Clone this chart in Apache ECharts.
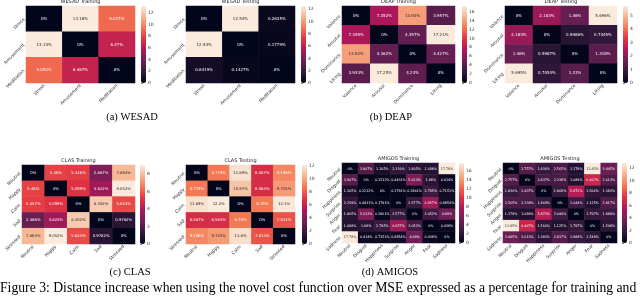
<!DOCTYPE html>
<html>
<head>
<meta charset="utf-8">
<script src="https://cdn.jsdelivr.net/npm/echarts@6/dist/echarts.min.js"></script>
<style>
html,body{margin:0;padding:0;background:#fff;}
#c{width:640px;height:297px;}
</style>
</head>
<body>
<div id="c"></div>
<script>
// ---------- data ----------
const wesadCats = ['Stress', 'Amusement', 'Meditation'];
const deapCats = ['Valence', 'Arousal', 'Dominance', 'Liking'];
const clasCats = ['Neutral', 'Happy', 'Calm', 'Sad', 'Stressed'];
const amigosCats = ['Neutral', 'Disgust', 'Happiness', 'Surprise', 'Anger', 'Fear', 'Sadness'];

const wesadTrain = [
  [0, 13.18, 9.037],
  [13.14, 0, 6.47],
  [9.052, 6.467, 0]
];
const wesadTest = [
  [0, 12.54, 0.2635],
  [12.54, 0, 0.1779],
  [0.6419, 0.1427, 0]
];
const deapTrain = [
  [0, 7.352, 13.92, 3.957],
  [7.349, 0, 4.357, 17.21],
  [13.92, 4.362, 0, 4.427],
  [3.933, 17.25, 4.230, 0]
];
const deapTest = [
  [0, 2.183, 1.46, 5.696],
  [2.183, 0, 0.5986, 0.7445],
  [1.46, 0.5987, 0, 1.318],
  [5.695, 0.7053, 1.31, 0]
];
const clasTrain = [
  [0, 5.46, 5.348, 2.887, 7.864],
  [5.46, 0, 5.099, 3.622, 9.052],
  [5.357, 5.099, 0, 8.302, 5.623],
  [2.386, 3.623, 8.302, 0, 0.9782],
  [7.864, 9.052, 5.623, 0.9782, 0]
];
const clasTest = [
  [0, 8.779, 11.89, 6.587, 9.196],
  [8.779, 0, 10.97, 6.564, 9.725],
  [11.89, 12.2, 0, 8.79, 12.1],
  [6.587, 6.564, 8.79, 0, 7.814],
  [9.196, 9.725, 11.8, 7.814, 0]
];
const amigosTrain = [
  [0, 3.907, 1.165, 2.319, 1.805, 1.688, 17.78],
  [3.907, 0, 0.2212, 0.4431, 5.613, 1.980, 0.4140],
  [1.165, 0.2212, 0, 0.1791, 0.2861, 2.795, 0.7151],
  [2.319, 0.4431, 0.1791, 0, 2.577, 6.957, 0.8854],
  [1.805, 5.613, 0.2861, 2.577, 0, 3.052, 4.99],
  [1.688, 1.980, 2.795, 6.957, 3.052, 0, 0.4380],
  [17.78, 0.4140, 0.7151, 0.8854, 4.99, 0.4380, 0]
];
const amigosTest = [
  [0, 2.757, 1.836, 2.565, 1.178, 12.85, 3.445],
  [2.757, 0, 2.437, 2.338, 1.089, 6.467, 2.613],
  [1.836, 2.437, 0, 1.868, 5.872, 1.566, 1.383],
  [2.565, 2.338, 1.868, 0, 2.044, 1.125, 2.817],
  [1.178, 1.089, 5.872, 2.044, 0, 1.797, 1.988],
  [12.85, 6.467, 1.566, 1.125, 1.797, 0, 1.548],
  [3.445, 2.613, 1.383, 2.817, 1.988, 1.548, 0]
];

const wesadTrainTicks = [0, 2, 4, 6, 8, 10, 12];
const wesadTestTicks = [0, 2, 4, 6, 8, 10, 12];
const deapTrainTicks = [0, 2, 4, 6, 8, 10, 12, 14, 16];
const deapTestTicks = [0, 1, 2, 3, 4, 5];
const clasTrainTicks = [0, 2, 4, 6, 8];
const clasTestTicks = [0, 2, 4, 6, 8, 10, 12];
const amigosTrainTicks = [0, 2, 4, 6, 8, 10, 12, 14, 16];
const amigosTestTicks = [0, 2, 4, 6, 8, 10, 12];

const titles = ['WESAD Training', 'WESAD Testing', 'DEAP Training', 'DEAP Testing',
                'CLAS Training', 'CLAS Testing', 'AMIGOS Training', 'AMIGOS Testing'];
const subCaptions = ['(a) WESAD', '(b) DEAP', '(c) CLAS', '(d) AMIGOS'];
const figCaption = 'Figure 3: Distance increase when using the novel cost function over MSE expressed as a percentage for training and';

// ---------- layout / style ----------
const rocket = ['#03051A', '#35193E', '#701F57', '#AD1759', '#E13342', '#F37651', '#F6B48F', '#FAEBDD'];
const FONT = 'DejaVu Sans';

const panels = [
  {cats: wesadCats, m: wesadTrain, ticks: wesadTrainTicks, g: [26, 6, 109, 77], cb: 141, ty: 2, fs: 4},
  {cats: wesadCats, m: wesadTest, ticks: wesadTestTicks, g: [186, 6, 109, 77], cb: 301, ty: 2, fs: 4},
  {cats: deapCats, m: deapTrain, ticks: deapTrainTicks, g: [342, 6, 113, 77], cb: 462, ty: 2, fs: 4},
  {cats: deapCats, m: deapTest, ticks: deapTestTicks, g: [505, 6, 112, 77], cb: 623, ty: 2, fs: 4},
  {cats: clasCats, m: clasTrain, ticks: clasTrainTicks, g: [22, 165, 113, 79], cb: 140, ty: 161, fs: 3.8},
  {cats: clasCats, m: clasTest, ticks: clasTestTicks, g: [186, 165, 109, 79], cb: 302, ty: 161, fs: 3.8},
  {cats: amigosCats, m: amigosTrain, ticks: amigosTrainTicks, g: [342, 163, 113, 80], cb: 459, ty: 159, fs: 3.3},
  {cats: amigosCats, m: amigosTest, ticks: amigosTestTicks, g: [503, 163, 114, 80], cb: 622, ty: 159, fs: 3.3}
];

const grid = [], xAxis = [], yAxis = [], series = [], visualMap = [], graphic = [];
const catLabel = {rotate: 45, fontSize: 4.5, margin: 2, color: '#333', fontFamily: FONT, interval: 0};
const tickStyle = {length: 2, lineStyle: {color: '#333', width: 0.6}};

panels.forEach((p, k) => {
  const [L, T, W, H] = p.g;
  const vmax = Math.max(...p.m.flat());
  const gi = 2 * k;
  grid.push({left: L, top: T, width: W, height: H});
  xAxis.push({type: 'category', gridIndex: gi, data: p.cats, position: 'bottom',
    axisLine: {show: false}, axisTick: Object.assign({alignWithLabel: true}, tickStyle),
    axisLabel: catLabel, splitLine: {show: false}});
  yAxis.push({type: 'category', gridIndex: gi, data: p.cats, inverse: true,
    axisLine: {show: false}, axisTick: Object.assign({alignWithLabel: true}, tickStyle),
    axisLabel: catLabel, splitLine: {show: false}});
  // colorbar axis
  grid.push({left: p.cb, top: T, width: 5, height: H});
  xAxis.push({type: 'value', gridIndex: gi + 1, show: false, min: 0, max: 1});
  yAxis.push({type: 'value', gridIndex: gi + 1, min: 0, max: vmax, position: 'right',
    axisLine: {show: false}, splitLine: {show: false},
    axisTick: Object.assign({show: true, customValues: p.ticks}, tickStyle),
    axisLabel: {customValues: p.ticks, fontSize: 4.5, margin: 2, color: '#333', fontFamily: FONT}});
  const data = [];
  p.m.forEach((row, i) => row.forEach((v, j) => {
    data.push({value: [j, i, v], label: {color: v / vmax > 0.78 ? '#262626' : '#ffffff'}});
  }));
  series.push({type: 'heatmap', xAxisIndex: gi, yAxisIndex: gi, data: data,
    emphasis: {disabled: true},
    label: {show: true, fontSize: p.fs, fontFamily: FONT, formatter: d => d.value[2] + '%'}});
  visualMap.push({type: 'continuous', seriesIndex: k, min: 0, max: vmax, left: p.cb, top: T,
    itemWidth: 5, itemHeight: H, calculable: false, padding: 0, orient: 'vertical',
    hoverLink: false, inRange: {color: rocket}});
  graphic.push({type: 'text', x: L + W / 2, y: p.ty, style: {text: titles[k], fontSize: 5,
    fontFamily: FONT, fill: '#262626', align: 'center', verticalAlign: 'middle'}});
});

const capPos = [[132, 117], [391, 117], [130, 272], [390, 272]];
subCaptions.forEach((t, i) => {
  graphic.push({type: 'text', x: capPos[i][0], y: capPos[i][1], style: {text: t, fontSize: 10.5,
    fontFamily: 'Liberation Serif', fill: '#000', align: 'center', verticalAlign: 'middle'}});
});
graphic.push({type: 'text', x: 0, y: 288, style: {text: figCaption, fontSize: 13.7,
  fontFamily: 'Liberation Serif', fill: '#000', align: 'left', verticalAlign: 'middle'}});

const chart = echarts.init(document.getElementById('c'), null, {renderer: 'canvas'});
chart.setOption({
  animation: false,
  backgroundColor: '#ffffff',
  grid, xAxis, yAxis, series, visualMap, graphic
});
</script>
</body>
</html>
